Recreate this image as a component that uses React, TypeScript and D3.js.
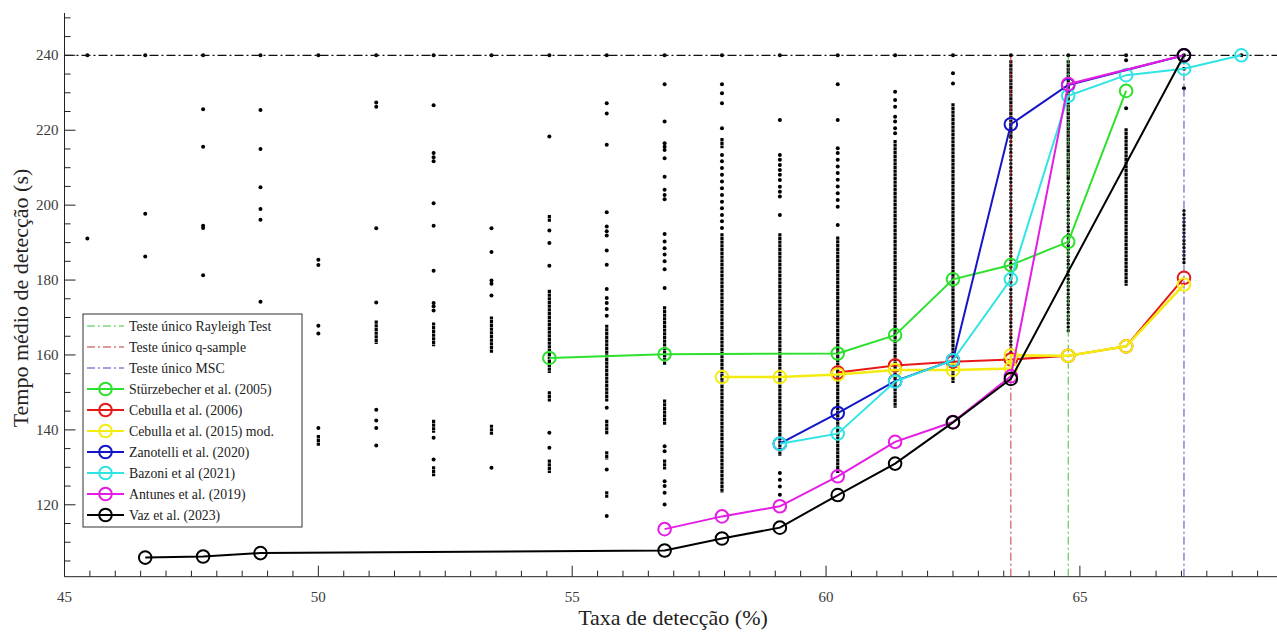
import React from 'react';
import * as d3 from 'd3';

// detection rates of each column of combinations (%)
const columnRates = [45.45, 46.59, 47.73, 48.86, 50.0, 51.14, 52.27, 53.41, 54.55, 55.68, 56.82, 57.95, 59.09, 60.23, 61.36, 62.5, 63.64, 64.77, 65.91, 67.05, 68.18];

// isolated points of each column (s)
const columnDots: number[][] = [
  [240, 191.1],
  [240, 197.7, 186.3],
  [240, 225.6, 215.6, 194.5, 193.9, 181.3],
  [240, 225.4, 215.0, 204.8, 199.0, 196.1, 174.2],
  [240, 185.4, 184.0, 167.8, 165.7, 140.5],
  [240, 227.4, 226.3, 193.8, 174.0, 145.4, 142.5, 140.5, 135.8],
  [240, 226.7, 213.9, 212.8, 211.7, 200.5, 194.5, 182.5, 173.9, 173.0, 171.9, 137.9, 132.1],
  [240, 193.8, 187.5, 179.9, 179.0, 175.9, 129.9],
  [240, 218.3, 193.2, 189.9, 183.8, 139.2, 135.2],
  [240, 227.2, 224.5, 216.1, 198.1, 194.3, 193.0, 191.9, 187.9, 184.1, 177.6, 175.2, 173.9, 172.3, 170.5, 145.9, 129.4, 117.0],
  [240, 232.3, 222.3, 216.5, 215.6, 214.7, 212.5, 207.6, 204.1, 202.7, 201.6, 192.3, 190.3, 188.5, 186.8, 185.0, 182.9, 177.9, 135.6, 134.3, 126.3, 125.0, 123.2, 120.1],
  [240, 232.3, 229.9, 227.2, 220.5, 213.4, 211.7, 209.9, 208.1, 206.3, 204.5, 202.7, 200.9, 199.2, 197.4, 195.7, 193.9],
  [240, 222.7, 213.4, 212.1, 210.7, 209.4, 208.1, 206.7, 204.9, 203.6, 202.3, 197.4, 128.5, 126.7, 124.9, 122.7],
  [240, 232.3, 222.7, 215.2, 213.9, 212.1, 210.3, 208.6, 206.8, 205.0, 203.2, 201.4, 199.6, 194.7],
  [240, 230.3, 228.1, 226.3, 223.6, 222.3, 220.5, 219.2],
  [240, 235.2, 232.5],
  [240],
  [240],
  [240, 238.7, 225.9],
  [240, 236.4, 231.2],
  [240],
];

// stretches so packed that the points touch: [top, bottom]
const columnDenseRuns: [number, number][][] = [
  [], [], [], [],
  [[138.6, 135.6]],
  [[169.2, 162.9]],
  [[168.7, 162.3], [142.7, 139.2], [130.3, 127.6]],
  [[170.3, 160.6], [141.4, 138.7]],
  [[197.4, 195.6], [177.4, 155.2], [150.3, 147.6], [132.1, 128.5]],
  [[168.1, 147.6], [142.7, 138.7], [134.3, 132.1], [123.6, 121.9]],
  [[173.0, 157.4], [148.1, 141.4], [132.1, 129.4]],
  [[217.9, 215.2], [192.5, 123.2]],
  [[192.5, 133.0]],
  [[191.6, 128.5]],
  [[217.4, 145.9]],
  [[227.2, 152.5]],
  [[238.7, 218.0]],
  [[238.7, 207.0]],
  [[220.5, 178.5]],
  [],
  [],
];

// stretches with closely spaced but separate points: [top, bottom]
const columnDottedRuns: [number, number][][] = [
  [], [], [], [], [], [], [], [], [], [], [], [], [], [], [], [],
  [[218.0, 160.6]],
  [[207.0, 166.0]],
  [],
  [[198.5, 184.6]],
  [],
];

// single-test references
const refNames = ['Teste único Rayleigh Test', 'Teste único q-sample', 'Teste único MSC'];
const refRates = [64.77, 63.64, 67.05];
const refColors = ['#3cc03c', '#c03434', '#4848b8'];
const ceilingTime = 240;

// methods
const sturzebecherX = [54.55, 56.82, 60.23, 61.36, 62.5, 63.64, 64.77, 65.91];
const sturzebecherY = [159.2, 160.2, 160.4, 165.3, 180.2, 184.0, 190.2, 230.5];
const cebulla06X = [60.23, 61.36, 62.5, 63.64, 64.77, 65.91, 67.05];
const cebulla06Y = [155.3, 157.2, 158.2, 158.8, 159.8, 162.3, 180.6];
const cebulla15X = [57.95, 59.09, 60.23, 61.36, 62.5, 63.64, 63.64, 64.77, 65.91, 67.05];
const cebulla15Y = [154.1, 154.1, 154.8, 156.0, 156.0, 156.4, 159.9, 159.8, 162.3, 178.8];
const zanotelliX = [59.09, 60.23, 61.36, 62.5, 63.64, 64.77, 67.05];
const zanotelliY = [136.3, 144.5, 153.0, 158.6, 221.6, 232.1, 240];
const bazoniX = [59.09, 60.23, 61.36, 62.5, 63.64, 64.77, 65.91, 67.05, 68.18];
const bazoniY = [136.3, 139.0, 152.9, 158.6, 180.2, 229.2, 234.7, 236.4, 240.0];
const antunesX = [56.82, 57.95, 59.09, 60.23, 61.36, 62.5, 63.64, 64.77, 67.05];
const antunesY = [113.5, 116.9, 119.6, 127.6, 136.8, 142.1, 154.3, 232.3, 240];
const vazX = [46.59, 47.73, 48.86, 56.82, 57.95, 59.09, 60.23, 61.36, 62.5, 63.64, 67.05];
const vazY = [105.9, 106.2, 107.1, 107.8, 111.0, 113.9, 122.6, 131.0, 142.0, 153.6, 240];

const seriesNames = ['Stürzebecher et al. (2005)', 'Cebulla et al. (2006)', 'Cebulla et al. (2015) mod.', 'Zanotelli et al. (2020)', 'Bazoni et al (2021)', 'Antunes et al. (2019)', 'Vaz et al. (2023)'];
const seriesColors = ['#2ee02e', '#e81818', '#f4ec10', '#1414c8', '#30e4e4', '#e41ce4', '#000000'];
const seriesXs = [sturzebecherX, cebulla06X, cebulla15X, zanotelliX, bazoniX, antunesX, vazX];
const seriesYs = [sturzebecherY, cebulla06Y, cebulla15Y, zanotelliY, bazoniY, antunesY, vazY];

const xMajorTicks = [45, 50, 55, 60, 65];
const yMajorTicks = [120, 140, 160, 180, 200, 220, 240];

const W = 1277;
const H = 633;
const FONT = '"Liberation Serif", "Times New Roman", serif';

export default function App() {
  const x = d3.scaleLinear().domain([45, 69.3]).range([64.5, 64.5 + 24.3 * 50.77]);
  const y = d3.scaleLinear().domain([100.8, 251.3]).range([576.7, 13]);
  const [x0] = x.range();
  const [y0, y1] = y.range();

  const line = d3.line<[number, number]>().x(d => x(d[0])).y(d => y(d[1]));
  const series = seriesNames.map((name, i) => ({
    name,
    color: seriesColors[i],
    pts: seriesXs[i].map((v, j) => [v, seriesYs[i][j]] as [number, number]),
  }));

  const xMinor = d3.range(45, 69.01, 0.5).filter(v => !xMajorTicks.includes(v));
  const yMinor = d3.range(105, 251, 5).filter(v => !yMajorTicks.includes(v));

  const legendRows = [
    ...refNames.map((n, i) => ({ name: n, color: refColors[i], ref: true })),
    ...series.map(s => ({ name: s.name, color: s.color, ref: false })),
  ];
  const lgX = 83, lgY = 314, lgW = 219, lgH = 213, rowH = 21;

  return (
    <svg width={W} height={H} style={{ position: 'absolute', left: 0, top: 0, background: '#fff' }} fontFamily={FONT}>
      <rect width={W} height={H} fill="#fff" />

      {/* scatter of all combinations */}
      <g>
        {columnRates.map((r, i) => (
          <g key={i}>
            {columnDenseRuns[i].map(([a, b], j) => (
              <line key={'d' + j} x1={x(r)} x2={x(r)} y1={y(a)} y2={y(b)} stroke="#000" strokeWidth={3.2} strokeDasharray="3.2 0.5" />
            ))}
            {columnDottedRuns[i].map(([a, b], j) => (
              <line key={'t' + j} x1={x(r)} x2={x(r)} y1={y(a)} y2={y(b)} stroke="#000" strokeWidth={3.4} strokeLinecap="round" strokeDasharray="0.1 3.6" />
            ))}
            {columnDots[i].map((v, j) => (
              <circle key={j} cx={x(r)} cy={y(v)} r={2} fill="#000" />
            ))}
          </g>
        ))}
      </g>

      {/* 240 s ceiling */}
      <line x1={x0} x2={W} y1={y(ceilingTime)} y2={y(ceilingTime)} stroke="#111" strokeWidth={1.2} strokeDasharray="9 3 2 3" />

      {/* single-test references */}
      {refRates.map((r, i) => (
        <line key={i} x1={x(r)} x2={x(r)} y1={y0} y2={y(ceilingTime)} stroke={refColors[i]} strokeWidth={1} strokeDasharray="8 3 2 3" />
      ))}

      {/* methods */}
      {series.map(s => (
        <g key={s.name}>
          <path d={line(s.pts) || ''} fill="none" stroke={s.color} strokeWidth={s.color === '#f4ec10' ? 2.6 : 2} />
          {s.pts.map((p, j) => (
            <circle key={j} cx={x(p[0])} cy={y(p[1])} r={6.3} fill="none" stroke={s.color} strokeWidth={2} />
          ))}
        </g>
      ))}

      {/* axes */}
      <g stroke="#222" strokeWidth={1}>
        <line x1={x0} x2={W} y1={y0} y2={y0} />
        <line x1={x0} x2={x0} y1={y0} y2={y1} />
        {xMajorTicks.map(v => <line key={v} x1={x(v)} x2={x(v)} y1={y0} y2={y0 - 11} />)}
        {xMinor.map(v => <line key={v} x1={x(v)} x2={x(v)} y1={y0} y2={y0 - 6} />)}
        {yMajorTicks.map(v => <line key={v} x1={x0} x2={x0 + 11} y1={y(v)} y2={y(v)} />)}
        {yMinor.map(v => <line key={v} x1={x0} x2={x0 + 6} y1={y(v)} y2={y(v)} />)}
      </g>
      <g fill="#3a3a3a" fontSize={15}>
        {xMajorTicks.map(v => (
          <text key={v} x={x(v)} y={y0 + 25} textAnchor="middle">{v}</text>
        ))}
        {yMajorTicks.map(v => (
          <text key={v} x={x0 - 6} y={y(v) + 5} textAnchor="end">{v}</text>
        ))}
      </g>
      <text x={673} y={625} textAnchor="middle" fontSize={22} fill="#222">Taxa de detecção (%)</text>
      <text transform={`translate(28,${298}) rotate(-90)`} textAnchor="middle" fontSize={22} fill="#222">Tempo médio de detecção (s)</text>

      {/* legend */}
      <g>
        <rect x={lgX} y={lgY} width={lgW} height={lgH} fill="#fff" stroke="#333" strokeWidth={1} />
        {legendRows.map((row, i) => {
          const cy = lgY + 12 + i * rowH;
          return (
            <g key={row.name}>
              <line x1={87} x2={124} y1={cy} y2={cy} stroke={row.color} strokeWidth={row.ref ? 1 : 2.2} strokeDasharray={row.ref ? '8 3 2 3' : undefined} />
              {!row.ref && <circle cx={105.5} cy={cy} r={6.3} fill="none" stroke={row.color} strokeWidth={2} />}
              <text x={129} y={cy + 4.5} fontSize={13.8} fill="#222">{row.name}</text>
            </g>
          );
        })}
      </g>
    </svg>
  );
}
